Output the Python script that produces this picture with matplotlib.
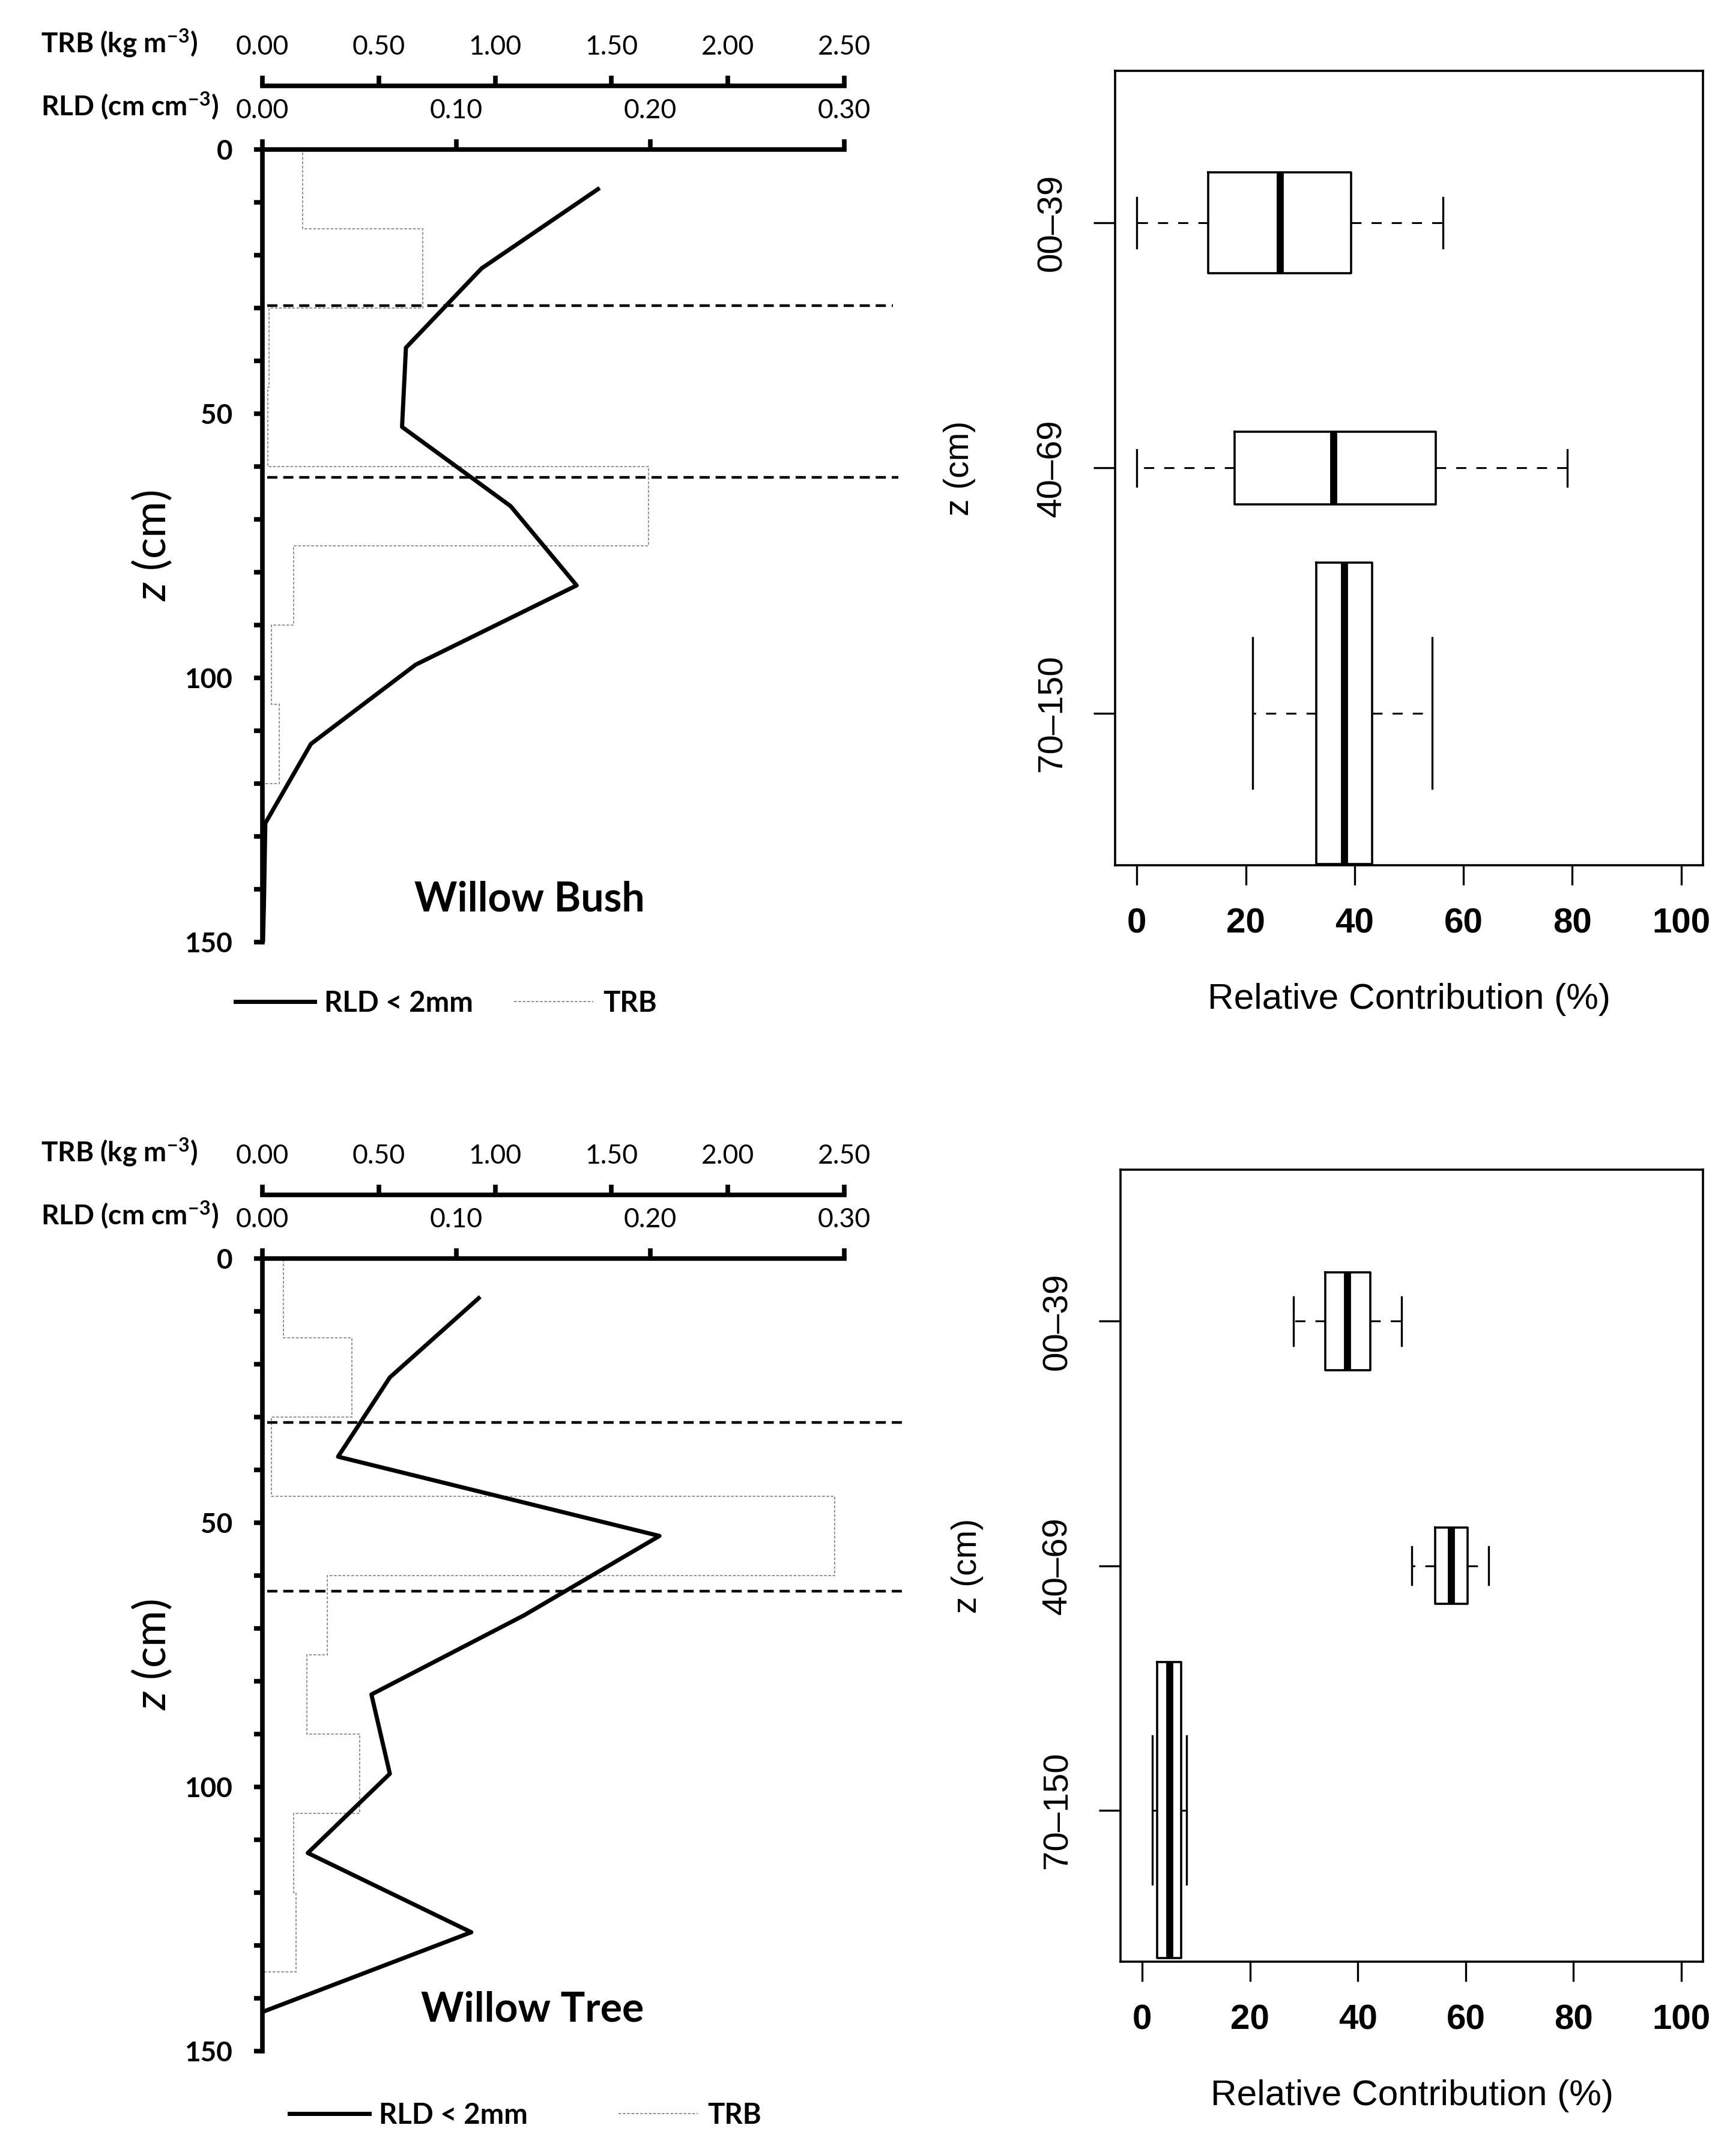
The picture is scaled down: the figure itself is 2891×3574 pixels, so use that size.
import numpy as np
import matplotlib.pyplot as plt
from matplotlib.lines import Line2D

W, H = 2891, 3574

plt.rcParams['mathtext.fontset'] = 'custom'
plt.rcParams['mathtext.rm'] = 'Lato:bold'
plt.rcParams['mathtext.it'] = 'Lato:italic'

# ---- data ----
layer_edges = [0, 15, 30, 45, 60, 75, 90, 105, 120, 135, 150]

bush_depth = [7.5, 22.5, 37.5, 52.5, 67.5, 82.5, 97.5, 112.5, 127.5, 142.5, 150]
bush_rld = [0.173, 0.113, 0.074, 0.072, 0.128, 0.162, 0.079, 0.025, 0.0015, 0.0008, 0.0003]
bush_trb = [0.173, 0.69, 0.028, 0.022, 1.66, 0.133, 0.039, 0.071, 0.0, 0.0]
bush_cuts = [29.5, 62.0]

tree_depth = [7.5, 22.5, 37.5, 52.5, 67.5, 82.5, 97.5, 112.5, 127.5, 142.5]
tree_rld = [0.1115, 0.0657, 0.039, 0.2047, 0.135, 0.0562, 0.0657, 0.0234, 0.1077, 0.0006]
tree_trb = [0.091, 0.385, 0.039, 2.458, 0.279, 0.192, 0.417, 0.133, 0.145, 0.005]
tree_cuts = [31.0, 63.0]

rld_ticks = [0.0, 0.1, 0.2, 0.3]
trb_ticks = [0.0, 0.5, 1.0, 1.5, 2.0, 2.5]

zones = ['00\u201339', '40\u201369', '70\u2013150']
# whislo, q1, median, q3, whishi  (relative contribution, %)
bush_box = [[0.0, 13.1, 26.3, 39.3, 56.2],
            [0.0, 18.0, 36.2, 54.9, 79.1],
            [21.3, 33.0, 38.1, 43.2, 54.3]]
tree_box = [[28.1, 34.0, 38.1, 42.3, 48.1],
            [50.0, 54.3, 57.3, 60.3, 64.2],
            [1.9, 2.8, 5.1, 7.3, 8.3]]
bush_widths = [0.41, 0.295, 1.23]
tree_widths = [0.40, 0.31, 1.21]


def fig_box(x0, y0, x1, y1):
    return [x0 / W, 1 - y1 / H, (x1 - x0) / W, (y1 - y0) / H]


fig = plt.figure(figsize=(W / 100, H / 100), dpi=100)

LF = 'Lato'
RF = 'Liberation Sans'


def profile_panel(top, depth, rld, trb, cuts, cut_ends, title, title_xy, leg_xy, colspace):
    x0, x1 = 437, 1406
    ax = fig.add_axes(fig_box(x0, top, x1, top + 1320))
    tw = ax.twiny()
    tw.set_xlim(0, 2.5)
    tw.axis('off')
    tw.stairs(trb, layer_edges, orientation='horizontal', baseline=0,
              color='#8a8a8a', lw=1.3, ls=(0, (2.5, 1.5)))
    ax.set_zorder(tw.get_zorder() + 1)
    ax.patch.set_visible(False)

    line, = ax.plot(rld, depth, color='black', lw=5, label='RLD < 2mm')
    for z, xe in zip(cuts, cut_ends):
        ax.hlines(z, 0.0025, xe, color='black', lw=3.2, linestyles=[(0, (3.8, 2.2))],
                  clip_on=False)

    ax.set_xlim(0, 0.3)
    ax.set_ylim(150, 0)
    ax.spines[['right', 'bottom']].set_visible(False)
    ax.spines[['top', 'left']].set_linewidth(5.5)
    ax.xaxis.tick_top()
    ax.set_xticks(rld_ticks)
    ax.set_xticklabels(['%.2f' % v for v in rld_ticks], family=LF)
    ax.tick_params(axis='x', direction='out', length=12, width=5.5, pad=20, labelsize=32)
    ax.set_yticks([0, 50, 100, 150])
    ax.set_yticks(np.arange(0, 151, 10), minor=True)
    ax.tick_params(axis='y', which='both', direction='out', length=10, width=5.5, pad=26,
                   labelsize=33)
    for lab in ax.get_yticklabels():
        lab.set_family(LF)
        lab.set_fontweight('bold')
    ax.set_ylabel(r'$\mathit{z}$ (cm)', fontsize=53, family=LF, va='center')
    ax.yaxis.set_label_coords(-(x0 - 253) / (x1 - x0), 0.5)

    # TRB axis above
    ty = top - 106
    tax = fig.add_axes(fig_box(x0, ty, x1, ty + 1))
    tax.set_xlim(0, 2.5)
    tax.spines[['right', 'bottom', 'left']].set_visible(False)
    tax.spines['top'].set_linewidth(5.5)
    tax.patch.set_visible(False)
    tax.set_yticks([])
    tax.xaxis.tick_top()
    tax.set_xticks(trb_ticks)
    tax.set_xticklabels(['%.2f' % v for v in trb_ticks], family=LF)
    tax.tick_params(axis='x', direction='out', length=12, width=5.5, pad=20, labelsize=32)

    fig.text(68 / W, 1 - (top - 177) / H, r'TRB (kg m$^{\mathrm{-3}}$)', ha='left', va='center',
             fontsize=33, family=LF, fontweight='bold')
    fig.text(68 / W, 1 - (top - 72) / H, r'RLD (cm cm$^{\mathrm{-3}}$)', ha='left', va='center',
             fontsize=33, family=LF, fontweight='bold')
    fig.text(title_xy[0] / W, 1 - title_xy[1] / H, title, ha='center', va='center',
             fontsize=49, family=LF, fontweight='bold')

    trb_proxy = Line2D([], [], color='#8a8a8a', lw=1.3, ls=(0, (2.5, 1.5)), label='TRB')
    ax.legend(handles=[line, trb_proxy], loc='center',
              bbox_to_anchor=(leg_xy[0] / W, 1 - leg_xy[1] / H), bbox_transform=fig.transFigure,
              ncol=2, frameon=False, handlelength=2.8, handletextpad=0.34,
              columnspacing=colspace, prop={'family': LF, 'weight': 'bold', 'size': 34})


def box_panel(frame, stats_rows, widths, ylab_x):
    x0, y0, x1, y1 = frame
    ax = fig.add_axes(fig_box(x0, y0, x1, y1))
    stats = [dict(whislo=r[0], q1=r[1], med=r[2], q3=r[3], whishi=r[4], label=zn)
             for r, zn in zip(stats_rows, zones)]
    ax.bxp(stats, positions=[1, 2, 3], widths=widths, capwidths=[w / 2 for w in widths],
           orientation='horizontal', showfliers=False, patch_artist=False,
           boxprops=dict(color='black', lw=2.6),
           medianprops=dict(color='black', lw=8.5, solid_capstyle='butt'),
           whiskerprops=dict(color='black', lw=2.2, ls=(0, (5.5, 5.5))),
           capprops=dict(color='black', lw=2.4))
    ax.set_xlim(-4, 104)
    ax.set_ylim(3.62, 0.38)
    for s in ax.spines.values():
        s.set_linewidth(2.6)
    ax.set_xticks(np.arange(0, 101, 20))
    ax.set_yticks([1, 2, 3])
    ax.set_yticklabels(zones, rotation=90, va='center')
    ax.tick_params(axis='x', length=24, width=2.4, pad=27, labelsize=42)
    ax.tick_params(axis='y', length=26, width=2.4, pad=30, labelsize=42)
    for lab in ax.get_xticklabels():
        lab.set_family(RF)
        lab.set_fontweight('bold')
    for lab in ax.get_yticklabels():
        lab.set_family(RF)
    ax.set_xlabel('Relative Contribution (%)', fontsize=43.5, family=RF, va='center')
    ax.xaxis.set_label_coords(0.5, -223 / (y1 - y0))
    ax.set_ylabel('z (cm)', fontsize=41, family=RF, va='center')
    ax.yaxis.set_label_coords(-(x0 - ylab_x) / (x1 - x0), 0.5)


profile_panel(249, bush_depth, bush_rld, bush_trb, bush_cuts, [0.325, 0.328],
              'Willow Bush', (882, 1498), (743, 1671), 1.43)
profile_panel(2096, tree_depth, tree_rld, tree_trb, tree_cuts, [0.332, 0.332],
              'Willow Tree', (887, 3347), (875, 3523), 3.2)

box_panel((1857, 118, 2836, 1441), bush_box, bush_widths, 1598)
box_panel((1866, 1948, 2836, 3267), tree_box, tree_widths, 1611)

fig.savefig('out.png', dpi=100, facecolor='white')
